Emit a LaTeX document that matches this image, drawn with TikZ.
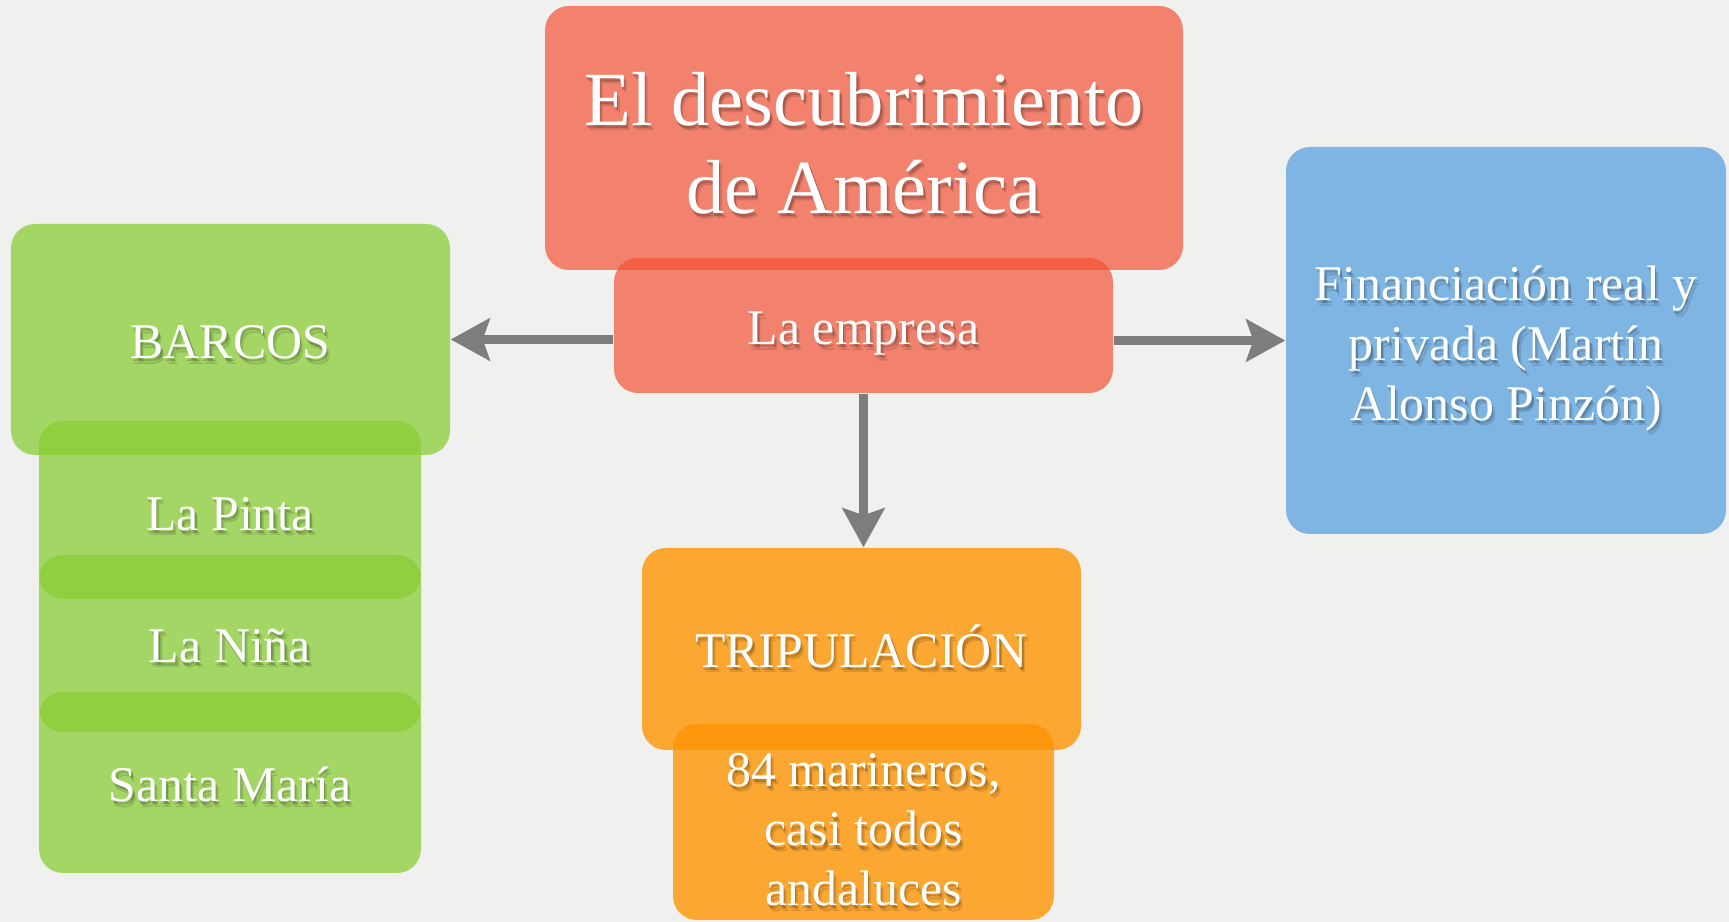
\documentclass[tikz,border=0pt]{standalone}
\usepackage{fontspec}
\setmainfont{Liberation Serif}
\usetikzlibrary{arrows.meta}

\definecolor{paper}{RGB}{240,240,239}
\definecolor{salmon}{RGB}{244,78,49}
\definecolor{leaf}{RGB}{135,205,50}
\definecolor{amber}{RGB}{254,149,3}
\definecolor{sky}{RGB}{127,181,226}
\definecolor{arrowgray}{RGB}{125,125,125}

% white text with a soft drop shadow, placed on a box
\newcommand{\boxtext}[4][0]{%
  \node[shadowtext,#3,text opacity=0.12] (#2-blur) at ([xshift=0.9pt,yshift=#1cm-1.6pt]#2.center) {#4};
  \node[shadowtext,#3] (#2-shadow) at ([xshift=0.4pt,yshift=#1cm-0.9pt]#2.center) {#4};
  \node[labeltext,#3] (#2-text) at ([yshift=#1cm]#2.center) {#4};
}

\begin{document}
\begin{tikzpicture}[
  card/.style={rectangle, rounded corners=0.24cm, inner sep=0pt, draw=none},
  labeltext/.style={text=white, align=center, inner sep=0pt},
  shadowtext/.style={text=black, text opacity=0.2, align=center, inner sep=0pt},
  titlefont/.style={font=\fontsize{21.8}{25}\selectfont},
  bodyfont/.style={font=\fontsize{14.2}{17}\selectfont},
  link/.style={arrowgray, line width=0.09cm, -{Stealth[length=0.39cm,width=0.42cm,inset=0.07cm]}}
]

% The paper
\useasboundingbox (0,0) rectangle (17.29,-9.22);
\fill[paper] (0,0) rectangle (17.29,-9.22);

% The title and the enterprise
\node[card, fill=salmon, fill opacity=0.68, minimum width=6.38cm, minimum height=2.64cm] (title) at (8.64,-1.38) {};
\node[card, fill=salmon, fill opacity=0.68, minimum width=4.99cm, minimum height=1.35cm] (empresa) at (8.635,-3.255) {};

% The ships
\node[card, fill=leaf, fill opacity=0.72, minimum width=4.39cm, minimum height=2.31cm] (barcos) at (2.305,-3.395) {};
\foreach \name/\y/\h in {pinta/-5.10/1.78, nina/-6.435/1.77, santa/-7.825/1.81}{
  \node[card, fill=leaf, fill opacity=0.72, minimum width=3.82cm, minimum height=\h cm] (\name) at (2.30,\y) {};
}

% The money
\node[card, fill=sky, minimum width=4.40cm, minimum height=3.87cm] (financ) at (15.06,-3.405) {};

% The crew
\node[card, fill=amber, fill opacity=0.8, minimum width=4.39cm, minimum height=2.02cm] (trip) at (8.615,-6.49) {};
\node[card, fill=amber, fill opacity=0.8, minimum width=3.81cm, minimum height=1.96cm] (marin) at (8.635,-8.22) {};

% Arrows
\draw[link] (barcos.east -| empresa.west) -- (barcos.east);
\draw[link] (financ.west -| empresa.east) -- (financ.west);
\draw[link] (empresa.south) -- (empresa.south |- trip.north);

% Texts
\boxtext[-0.05]{title}{titlefont}{El descubrimiento\\de América}
\boxtext[-0.08]{empresa}{bodyfont}{La empresa}
\boxtext[-0.03]{barcos}{bodyfont}{BARCOS}
\boxtext[-0.04]{pinta}{bodyfont}{La Pinta}
\boxtext[-0.02]{nina}{bodyfont}{La Niña}
\boxtext[-0.02]{santa}{bodyfont}{Santa María}
\boxtext[-0.08]{financ}{bodyfont}{Financiación real y\\privada (Martín\\Alonso Pinzón)}
\boxtext[0.03]{trip}{bodyfont}{TRIPULACIÓN}
\boxtext[-0.075]{marin}{bodyfont}{84 marineros,\\casi todos\\andaluces}

\end{tikzpicture}
\end{document}
